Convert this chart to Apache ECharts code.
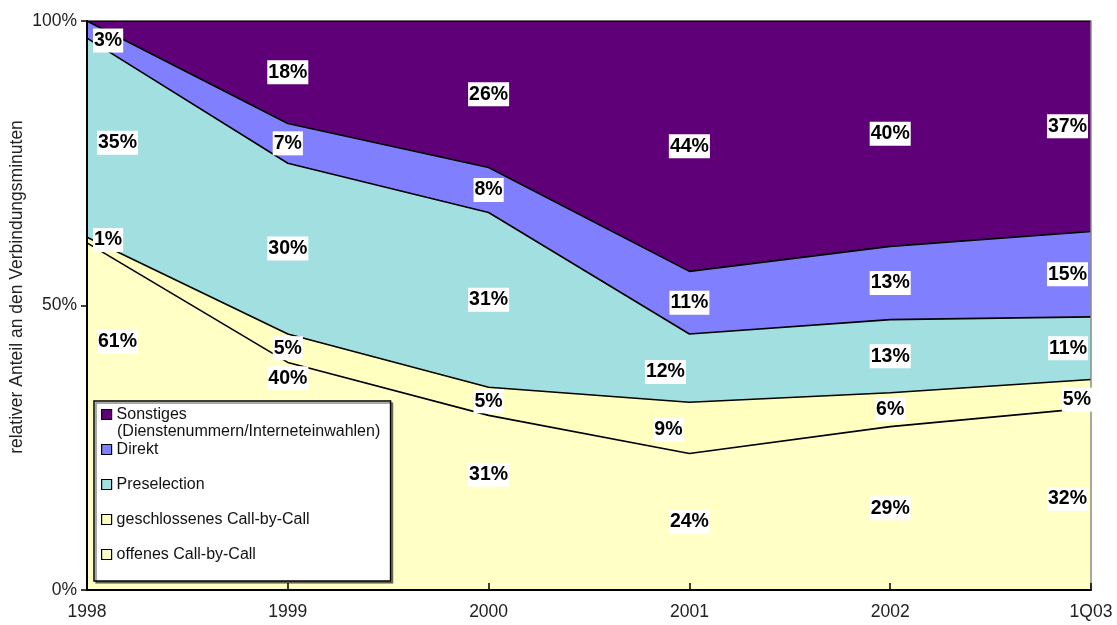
<!DOCTYPE html>
<html>
<head>
<meta charset="utf-8">
<title>Anteil an den Verbindungsminuten</title>
<script src="https://cdn.jsdelivr.net/npm/echarts@6/dist/echarts.min.js"></script>
<style>
  html, body { margin: 0; padding: 0; background: #fff; }
  #chart { width: 1117px; height: 625px; }
</style>
</head>
<body>
<div id="chart"></div>
<script>
// Kategorien und Anteile (in %), von unten nach oben gestapelt
const years = ['1998', '1999', '2000', '2001', '2002', '1Q03'];
const seriesNames = ['offenes Call-by-Call', 'geschlossenes Call-by-Call', 'Preselection', 'Direkt', 'Sonstiges'];
const offenes = [61, 40, 31, 24, 29, 32];
const geschlossenes = [1, 5, 5, 9, 6, 5];
const preselection = [35, 30, 31, 12, 13, 11];
const direkt = [3, 7, 8, 11, 13, 15];
const sonstiges = [0, 18, 26, 44, 40, 37];
const yTicks = [0, 50, 100];

const colors = ['#FFFFC6', '#FFFFC0', '#A2DFE0', '#8080FF', '#600078'];
const font = 'Arial, "Liberation Sans", sans-serif';

// einige Beschriftungen sind im Original von Hand verschoben worden
const nudges = {
    '0,0': [4, -75], '0,1': [0, -98], '0,2': [0, -28],
    '1,3': [-21, 2], '2,3': [-24, 4], '1,5': [4, 6],
    '2,0': [4, 5], '3,0': [0, 11]
};

const raw = [offenes, geschlossenes, preselection, direkt, sonstiges];
// 100%-Darstellung: jede Spalte auf ihre Summe normieren
const totals = years.map((_, i) => raw.reduce((s, arr) => s + arr[i], 0));
const shares = raw.map(arr => arr.map((v, i) => v / totals[i] * 100));

let labelPoints = [];
years.forEach((y, i) => {
    let base = 0;
    shares.forEach((arr, s) => {
        let mid = base + arr[i] / 2;
        base += arr[i];
        if (!raw[s][i]) return;
        let nudge = nudges[s + ',' + i] || [0, 0];
        let first = i === 0, last = i === years.length - 1;
        let dx = first ? 6 : (last ? -3 : 0);
        labelPoints.push({
            value: [i, mid],
            pct: raw[s][i],
            label: {
                align: first ? 'left' : (last ? 'right' : 'center'),
                offset: [dx + nudge[0], nudge[1]]
            }
        });
    });
});

let chart = echarts.init(document.getElementById('chart'));

let areaSeries = raw.map((arr, s) => ({
    name: seriesNames[s],
    type: 'line',
    stack: 'total',
    symbol: 'none',
    silent: true,
    color: colors[s],
    itemStyle: { color: colors[s] },
    lineStyle: { color: '#000', width: 1.6 },
    areaStyle: { color: colors[s], opacity: 1 },
    data: shares[s]
}));

let option = {
    animation: false,
    textStyle: { fontFamily: font },
    grid: { left: 87, right: 26, top: 21, bottom: 35, containLabel: false },
    legend: {
        orient: 'vertical',
        left: 94,
        top: 401,
        data: seriesNames.slice().reverse(),
        icon: 'rect',
        itemWidth: 10,
        itemHeight: 10,
        itemGap: 18,
        selectedMode: false,
        itemStyle: { borderColor: '#000', borderWidth: 1.2 },
        textStyle: { fontSize: 16, color: '#111', lineHeight: 17, fontFamily: font },
        backgroundColor: '#fff',
        borderColor: '#000',
        borderWidth: 1.5,
        padding: [5, 81, 18, 7],
        shadowColor: 'rgba(0,0,0,0.45)',
        shadowOffsetX: 2,
        shadowOffsetY: 2,
        shadowBlur: 0
    },
    graphic: [
        {
            type: 'text',
            left: 117,
            top: 424,
            z: 100,
            style: { text: '(Dienstenummern/Interneteinwahlen)', fill: '#111', font: '16px ' + font }
        },
        {
            type: 'text',
            x: 17,
            y: 287,
            rotation: Math.PI / 2,
            style: {
                text: 'relativer Anteil an den Verbindungsminuten',
                font: '17.5px ' + font,
                fill: '#222',
                align: 'center',
                verticalAlign: 'middle'
            }
        }
    ],
    xAxis: {
        type: 'category',
        boundaryGap: false,
        data: years,
        z: 10,
        axisLine: { lineStyle: { color: '#000', width: 2 } },
        axisTick: { show: true, inside: true, length: 7, lineStyle: { color: '#000', width: 1.5 } },
        axisLabel: { color: '#222', fontSize: 17.5, margin: 13, fontFamily: font },
        splitLine: { show: false }
    },
    yAxis: [{
        type: 'value',
        min: yTicks[0],
        max: yTicks[yTicks.length - 1],
        interval: yTicks[1] - yTicks[0],
        z: 10,
        axisLine: { show: true, lineStyle: { color: '#000', width: 2 } },
        axisTick: { show: true, length: 6, lineStyle: { color: '#000', width: 1.5 } },
        axisLabel: { color: '#222', fontSize: 17.5, margin: 10, formatter: '{value}%', fontFamily: font },
        splitLine: { show: false }
    }, {
        type: 'value',
        position: 'right',
        min: yTicks[0],
        max: yTicks[yTicks.length - 1],
        z: 10,
        axisLine: { show: true, lineStyle: { color: '#8a8a8a', width: 1.5 } },
        axisTick: { show: false },
        axisLabel: { show: false },
        splitLine: { show: false }
    }],
    series: areaSeries.concat([{
        name: 'labels',
        type: 'scatter',
        symbolSize: 0,
        silent: true,
        z: 20,
        itemStyle: { opacity: 1 },
        label: {
            show: true,
            position: 'inside',
            formatter: p => p.data.pct + '%',
            color: '#000',
            opacity: 1,
            textBorderWidth: 0,
            textBorderColor: 'transparent',
            fontSize: 19.5,
            fontWeight: 'bold',
            fontFamily: font,
            backgroundColor: '#fff',
            padding: [3, 1, 1, 1]
        },
        data: labelPoints
    }])
};

chart.setOption(option);

window.addEventListener('resize', () => {
    chart.resize();
});
</script>
</body>
</html>
